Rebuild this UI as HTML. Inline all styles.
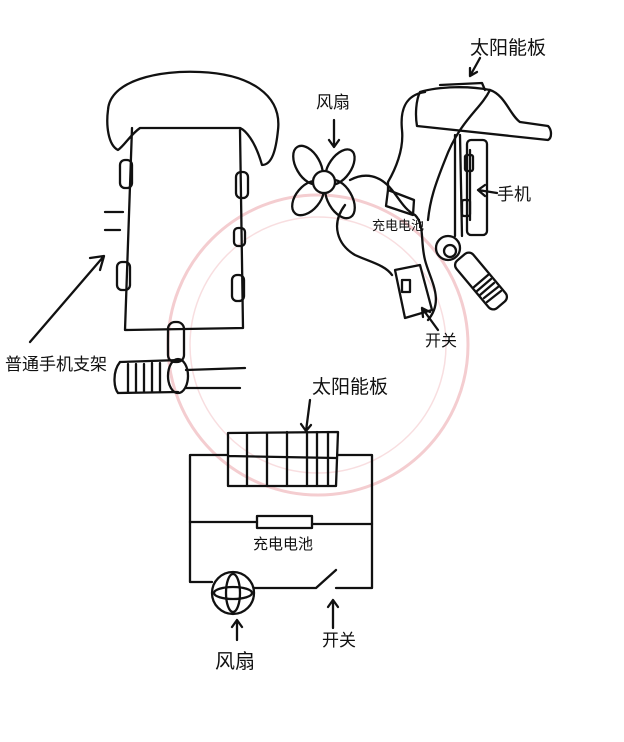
<!DOCTYPE html>
<html><head><meta charset="utf-8"><style>
html,body{margin:0;padding:0;background:#fff;}
svg{display:block}
text{font-family:"Liberation Sans","Noto Sans CJK SC",sans-serif;fill:#111;}
</style></head><body>
<svg width="624" height="742" viewBox="0 0 624 742" xmlns="http://www.w3.org/2000/svg" fill="none" stroke="#111" stroke-width="2.3" stroke-linecap="round" stroke-linejoin="round">
<!-- watermark -->
<circle cx="318" cy="345" r="150" stroke="#f0b8bc" stroke-width="3" opacity="0.7"/>
<circle cx="318" cy="345" r="128" stroke="#f3c8cb" stroke-width="1.5" opacity="0.6"/>

<!-- left phone holder -->
<path d="M108,110 C110,80 160,70 200,72 C250,74 282,95 278,130 C276,150 272,165 262,165 C255,140 245,130 240,128 L140,128 C130,135 125,145 118,150 C108,145 106,125 108,110 Z"/>
<path d="M132,128 L125,330 L243,328 L240,130"/>
<rect x="120" y="160" width="12" height="28" rx="5"/>
<rect x="236" y="172" width="12" height="26" rx="5"/>
<rect x="117" y="262" width="13" height="28" rx="5"/>
<rect x="234" y="228" width="11" height="18" rx="4"/>
<rect x="232" y="275" width="12" height="26" rx="5"/>
<path d="M105,212 L123,212 M105,230 L120,230"/>
<rect x="168" y="322" width="16" height="40" rx="7"/>
<path d="M120,362 L180,360 M118,393 L178,392 M120,362 C112,372 114,388 118,393"/>
<path d="M128,364 L128,392 M136,364 L136,392 M144,364 L144,392 M152,363 L152,392 M160,363 L160,392"/>
<ellipse cx="178" cy="376" rx="10" ry="17"/>
<path d="M186,370 L245,368 M186,388 L240,388"/>
<path d="M30,342 L104,256 M90,258 L104,256 L100,270"/>
<text x="5" y="370" font-size="17" stroke="none">普通手机支架</text>

<!-- right device -->
<text x="470" y="54" font-size="19" stroke="none">太阳能板</text>
<path d="M480,58 L470,76 M470,76 L470,68 M470,76 L477,72"/>
<path d="M440,85 L482,83 L485,90"/>
<path d="M420,92 C440,86 470,86 490,90 C505,95 510,115 520,122 L548,126 C552,130 552,138 548,140 L417,126 C415,115 416,100 420,92 Z"/>
<path d="M425,92 C405,95 400,110 402,130 C404,150 395,170 388,182 L388,190"/>
<path d="M490,90 C480,110 460,120 445,160 C435,185 430,200 428,220"/>
<path d="M455,135 L455,236 M460,135 L462,236"/>
<rect x="467" y="140" width="20" height="95" rx="4"/>
<path d="M470,150 L470,220"/>
<rect x="465" y="155" width="8" height="16" rx="2"/>
<rect x="462" y="200" width="8" height="16" rx="2"/>
<text x="497" y="200" font-size="17" stroke="none">手机</text>
<path d="M497,193 L478,190 M478,190 L485,185 M478,190 L485,196"/>
<circle cx="448" cy="248" r="12"/>
<circle cx="450" cy="251" r="6"/>
<rect x="470" y="250" width="22" height="62" rx="6" transform="rotate(-40 481 281)"/>
<path d="M474,287 L488,275 M477,291 L491,279 M480,295 L494,283 M484,298 L498,287 M487,302 L501,291"/>
<!-- fan -->
<text x="316" y="108" font-size="17" stroke="none">风扇</text>
<path d="M334,120 L334,147 M329,140 L334,147 L339,140"/>
<ellipse cx="308" cy="165" rx="12" ry="21" transform="rotate(-30 308 165)"/>
<ellipse cx="340" cy="167" rx="11" ry="20" transform="rotate(35 340 167)"/>
<ellipse cx="308" cy="198" rx="12" ry="20" transform="rotate(40 308 198)"/>
<ellipse cx="340" cy="199" rx="12" ry="21" transform="rotate(-30 340 199)"/>
<circle cx="324" cy="182" r="11" fill="#fff"/>
<!-- body wire loop -->
<path d="M350,180 C365,172 380,175 392,190 M392,190 C400,200 405,210 415,215 C425,225 420,240 425,260 C430,280 445,300 428,320"/>
<path d="M345,205 C330,225 338,245 355,255 C370,262 385,265 392,275"/>
<path d="M388,190 L414,200 L413,215 L386,206 Z"/>
<text x="372" y="230" font-size="13" stroke="none">充电电池</text>
<path d="M395,270 L420,265 L432,310 L405,318 Z"/>
<rect x="402" y="280" width="8" height="12"/>
<text x="425" y="346" font-size="16" stroke="none">开关</text>
<path d="M438,330 L422,308 M422,308 L423,317 M422,308 L430,312"/>

<!-- circuit -->
<text x="312" y="393" font-size="19" stroke="none">太阳能板</text>
<path d="M310,400 L306,431 M301,424 L306,431 L311,425"/>
<path d="M228,433 L338,432 L336,486 L228,486 Z M228,456 L336,458"/>
<path d="M247,433 L247,486 M267,433 L267,486 M287,432 L287,486 M307,432 L307,486 M317,432 L317,486 M328,432 L328,486"/>
<path d="M228,455 L190,455 L190,582 L212,582 M338,455 L372,455 L372,588 L336,588"/>
<path d="M190,522 L257,522 M312,524 L372,524"/>
<rect x="257" y="516" width="55" height="12"/>
<text x="253" y="549" font-size="15" stroke="none">充电电池</text>
<circle cx="233" cy="593" r="21"/>
<ellipse cx="233" cy="593" rx="7" ry="19"/>
<ellipse cx="233" cy="593" rx="19" ry="6"/>
<path d="M254,588 L316,588 L336,570"/>
<path d="M237,640 L237,620 M232,627 L237,620 L242,627"/>
<text x="215" y="668" font-size="20" stroke="none">风扇</text>
<path d="M333,628 L333,600 M328,607 L333,600 L338,607"/>
<text x="322" y="646" font-size="17" stroke="none">开关</text>
</svg>
</body></html>
